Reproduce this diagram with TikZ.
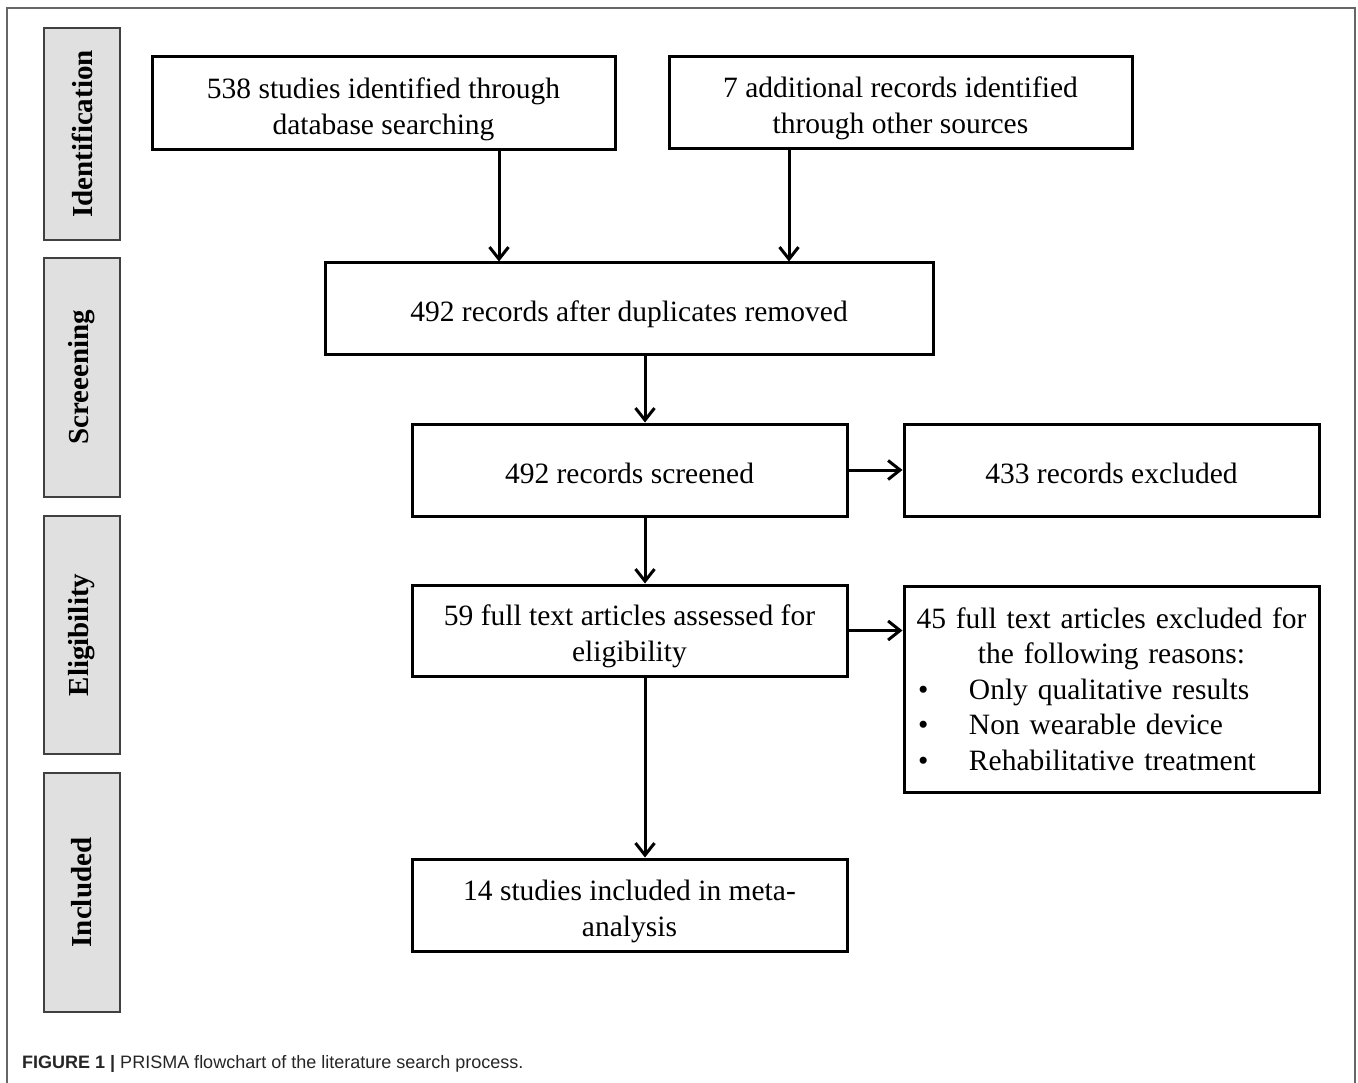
\documentclass[tikz,border=0pt]{standalone}
\usepackage{fontspec}
\setmainfont{Liberation Serif}
\setsansfont{Liberation Sans}
\usetikzlibrary{arrows.meta}
\begin{document}
\begin{tikzpicture}[x=1pt,y=-1pt,
  box/.style={draw=black,line width=3pt,inner sep=0pt,align=center,
    font=\fontsize{29.5}{36}\selectfont,text height=28pt,text depth=2pt},
  twoline/.style={text height=64pt,text depth=2pt},
  phase/.style={draw=black!75,line width=1.5pt,fill=black!12,inner sep=0pt,
    minimum width=76pt,font=\fontsize{29}{34}\bfseries\selectfont},
  flow/.style={line width=3pt,-{Straight Barb[length=12pt,width=19pt,line width=3pt]}}
]
\useasboundingbox (0,0) rectangle (1358,1083);
% outer frame
\draw[draw=black!60,line width=2pt] (7,1090) -- (7,8) -- (1355,8) -- (1355,1090);
% phase labels
\node[phase,minimum height=212pt] (p1) at (82,134) {\rotatebox{90}{Identification}};
\node[phase,minimum height=239pt] (p2) at (82,377.5) {\rotatebox{90}{Screeening}};
\node[phase,minimum height=238pt] (p3) at (82,635) {\rotatebox{90}{Eligibility}};
\node[phase,minimum height=239pt] (p4) at (82,892.5) {\rotatebox{90}{Included}};
% boxes
\node[box,twoline,minimum width=463pt,minimum height=93pt] (a) at (383.5,103.5)
  {538 studies identified through\\database searching};
\node[box,twoline,minimum width=463pt,minimum height=92pt] (b) at (900.5,103)
  {7 additional records identified\\through other sources};
\node[box,minimum width=608pt,minimum height=92pt] (c) at (629,309)
  {492 records after duplicates removed};
\node[box,minimum width=435pt,minimum height=92pt] (d) at (629.5,470)
  {492 records screened};
\node[box,minimum width=415pt,minimum height=92pt] (e) at (1111.5,470)
  {433 records excluded};
\node[box,twoline,minimum width=435pt,minimum height=91pt] (f) at (629.5,630.5)
  {59 full text articles assessed for\\eligibility};
\node[draw=black,line width=3pt,inner sep=0pt,font=\fontsize{29.5}{35.5}\selectfont,
  minimum width=415pt,minimum height=206pt,text width=415pt] (g) at (1111.5,689)
  {\noindent\makebox[415pt][c]{45 full text articles excluded for}\\
   \makebox[415pt][c]{the following reasons:}\\
   \hspace*{14pt}\makebox[51pt][l]{\textbullet}Only qualitative results\\
   \hspace*{14pt}\makebox[51pt][l]{\textbullet}Non wearable device\\
   \hspace*{14pt}\makebox[51pt][l]{\textbullet}Rehabilitative treatment};
\node[box,twoline,minimum width=435pt,minimum height=92pt] (h) at (629.5,905)
  {14 studies included in meta-\\analysis};
% connectors
\draw[flow] (a.south -| 499,0) -- (c.north -| 499,0);
\draw[flow] (b.south -| 789,0) -- (c.north -| 789,0);
\draw[flow] (c.south -| 645,0) -- (d.north -| 645,0);
\draw[flow] (d.east) -- (e.west);
\draw[flow] (d.south -| 645,0) -- (f.north -| 645,0);
\draw[flow] (f.east) -- (g.west |- f.east);
\draw[flow] (f.south -| 645,0) -- (h.north -| 645,0);
% caption
\node[anchor=base west,inner sep=0pt,text=black!85,font=\sffamily\fontsize{18}{21}\selectfont] (cap) at (22,1068)
  {\textbf{FIGURE 1 |} PRISMA flowchart of the literature search process.};
\end{tikzpicture}
\end{document}
